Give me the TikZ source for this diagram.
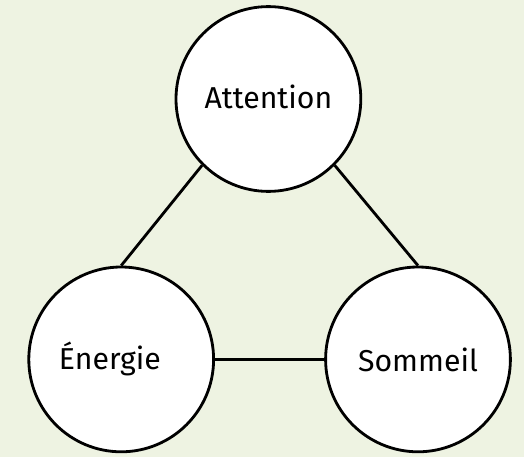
\documentclass[tikz,border=0pt]{standalone}
\usepackage{fontspec}
\setmainfont{Fira Sans}
\usepackage{tikz}
\usetikzlibrary{positioning}

\definecolor{bgpaper}{RGB}{238,243,226}

\begin{document}
\begin{tikzpicture}[
  bubble/.style={
    circle, draw=black, line width=2pt, fill=white,
    minimum size=4.62cm, inner sep=0pt, font=\fontsize{21.5}{24}\selectfont
  },
  link/.style={line width=2pt, black}
]

% === Background ===
\fill[bgpaper] (0,0) rectangle (13.1,11.425);
\useasboundingbox (0,0) rectangle (13.1,11.425);

% === Circles ===
\node[bubble] (att) at (6.71,8.95) {\raisebox{3pt}{Attention}};
\node[bubble] (ene) at (3.03,2.44) {\hspace*{-16pt}Énergie};
\node[bubble] (som) at (10.45,2.44) {Sommeil};

% === Links ===
\draw[link] (att.south west) -- (ene.north);
\draw[link] (att.south east) -- (som.north);
\draw[link] (ene.east) -- (som.west);

\end{tikzpicture}
\end{document}
